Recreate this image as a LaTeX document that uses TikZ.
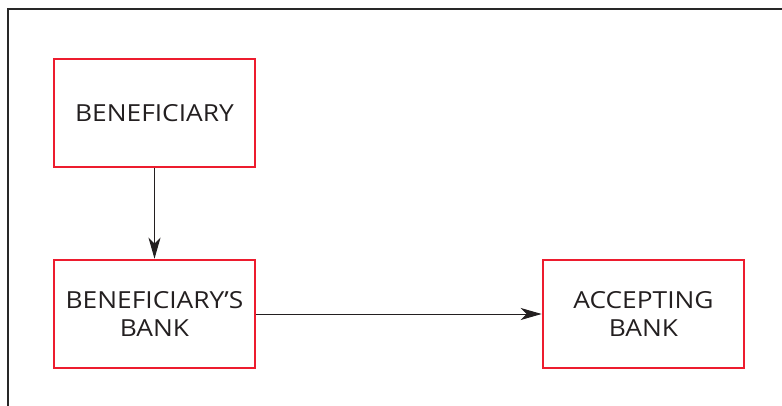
\documentclass[tikz,border=0pt]{standalone}
\usepackage{fontspec}
\setmainfont{Open Sans}[FakeStretch=1.12]
\usetikzlibrary{arrows.meta}
\definecolor{boxred}{RGB}{237,28,46}
\definecolor{framegray}{RGB}{40,40,40}
\definecolor{inkdark}{RGB}{35,31,32}
\begin{document}
\begin{tikzpicture}[x=1pt,y=-1pt,
  entity/.style={draw=boxred,line width=2.6pt,minimum width=201pt,minimum height=108pt,
    align=center,inner sep=0pt,font=\fontsize{23.5}{28}\selectfont,text=inkdark},
  flow/.style={draw=inkdark,line width=1pt,-{Stealth[length=21pt,width=12pt,inset=6pt]}},
  frameline/.style={draw=framegray,line width=1.3pt}]
\useasboundingbox (0,0) rectangle (782,406);
\coordinate (fbl) at (8,406);
\coordinate (ftl) at (8,9);
\coordinate (ftr) at (782,9);
\draw[frameline] (fbl) -- (ftl) -- (ftr);
\node[entity] (ben) at (154.5,113) {BENEFICIARY};
\node[entity] (benbank) at (154.5,314) {BENEFICIARY’S\\BANK};
\node[entity] (acc) at (643.5,314) {ACCEPTING\\BANK};
\draw[flow] (ben) -- (benbank);
\draw[flow] (benbank) -- (acc);
\end{tikzpicture}
\end{document}
